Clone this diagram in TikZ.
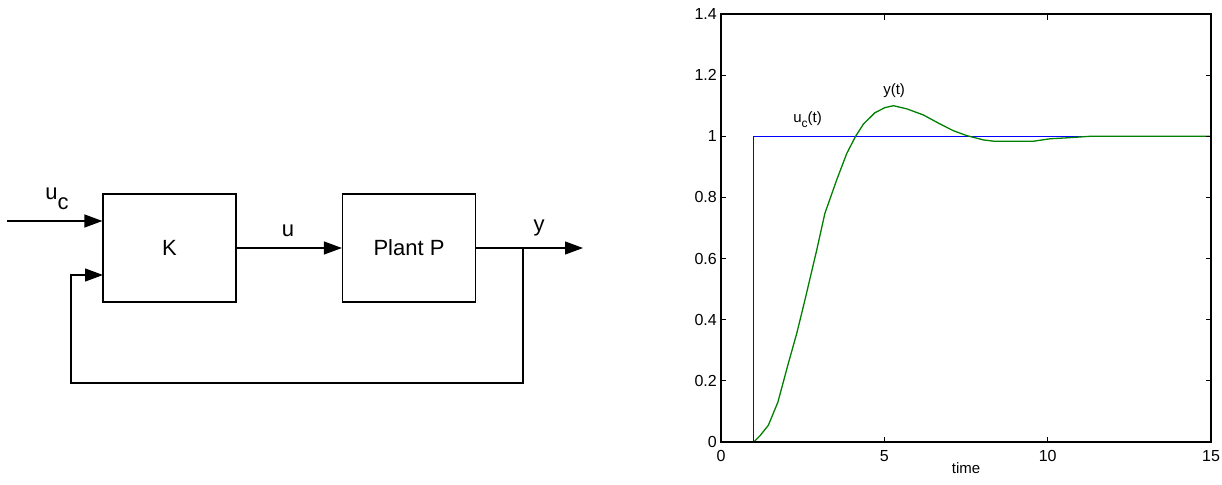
\documentclass[tikz,border=0pt]{standalone}
\usepackage{fontspec}
\setmainfont{Liberation Sans}
\usetikzlibrary{arrows.meta}
\definecolor{plotblue}{RGB}{0,0,255}
\definecolor{plotgreen}{RGB}{0,128,0}
\tikzset{
  blk/.style={draw, line width=1.2pt, minimum width=133pt, minimum height=108pt, inner sep=0pt, font=\fontsize{22}{24}\selectfont},
  sig/.style={line width=1.2pt, -{Triangle[length=18pt,width=13pt]}},
  lbl/.style={font=\fontsize{22}{24}\selectfont, inner sep=0pt, anchor=base},
  axis/.style={line width=1.3pt},
  tick/.style={line width=1pt},
  ticklbl/.style={font=\fontsize{16}{18}\selectfont, inner sep=0pt},
  curvelbl/.style={font=\fontsize{15}{17}\selectfont, inner sep=0pt},
  curve/.style={line width=1.3pt, line join=round},
}
\begin{document}
\begin{tikzpicture}[x=1pt,y=-1pt]
\useasboundingbox (0,0) rectangle (1222,484);
% ---------- block diagram ----------
\node[blk] (K) at (169.5,248) {K};
\node[blk] (P) at (409,248) {Plant P};
\coordinate (in) at (7,221);
\coordinate (out) at (583,248);
\coordinate (br) at (523,248);
\coordinate (fb) at (71,383);
\coordinate (kfb) at (103,275);
\draw[sig] (in) -- (in -| K.west);
\draw[sig] (K) -- (P);
\draw[sig] (P) -- (out);
\draw[sig] (br) |- (fb) |- (kfb);
\node[lbl] (uclbl) at (57,199) {u\raisebox{-10pt}{c}};
\node[lbl] (ulbl) at (288,236) {u};
\node[lbl] (ylbl) at (539,231) {y};
% ---------- plot ----------
\begin{scope}[shift={(721,442)}, x=32.667pt, y=305.7pt]
  \draw[plotblue, curve] (0,0) -- (1,0) -- (1,1) -- (15,1);
  \draw[plotgreen, curve] plot coordinates {
    (0,0) (1,0) (1.19,0.02) (1.45,0.055) (1.74,0.13) (2.06,0.257) (2.32,0.356)
    (2.57,0.465) (2.93,0.628) (3.18,0.748) (3.54,0.857) (3.85,0.944) (4.12,1.0)
    (4.36,1.04) (4.71,1.077) (5.02,1.094) (5.28,1.1) (5.68,1.09) (6.19,1.07)
    (6.71,1.04) (7.12,1.018) (7.53,1.002) (8.04,0.988) (8.35,0.984) (9.57,0.984)
    (10.08,0.992) (10.59,0.995) (11.3,1.0) (15,1)};
  \draw[axis] (0,0) rectangle (15,1.4);
  \foreach \t in {5,10} {
    \draw[tick] (\t,0) -- (\t,0.018);
    \draw[tick] (\t,1.4) -- (\t,1.382);
  }
  \foreach \v in {0.2,0.4,...,1.21} {
    \draw[tick] (0,\v) -- (0.16,\v);
    \draw[tick] (15,\v) -- (14.84,\v);
  }
  \foreach \v/\s in {0/0,0.2/0.2,0.4/0.4,0.6/0.6,0.8/0.8,1/1,1.2/1.2,1.4/1.4}
    \node[ticklbl, anchor=east] at ([xshift=-4pt]0,\v) {\s};
  \foreach \t in {0,5,10,15}
    \node[ticklbl, anchor=north] at ([yshift=-8pt]\t,0) {\t};
  \coordinate (timepos) at (7.5,0);
  \coordinate (ucpos) at (2.65,1.055);
  \coordinate (ypos) at (5.3,1.15);
\end{scope}
\node[curvelbl] (timelbl) at ([yshift=-26pt]timepos) {time};
\node[curvelbl] (uctlbl) at (ucpos) {u\raisebox{-5pt}{\fontsize{12}{14}\selectfont c}(t)};
\node[curvelbl] (ytlbl) at (ypos) {y(t)};
\end{tikzpicture}
\end{document}
